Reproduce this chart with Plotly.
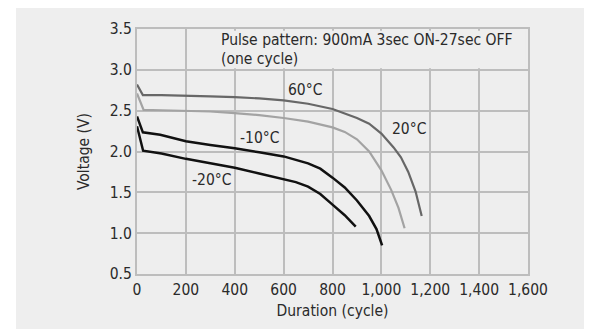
import plotly.graph_objects as go

# ---- data ----
x_top = [0, 24, 100, 200, 300, 400, 500, 600, 700, 800, 900, 950, 1000, 1050, 1080, 1110, 1140, 1165]
y_top = [2.82, 2.69, 2.69, 2.685, 2.675, 2.665, 2.65, 2.625, 2.585, 2.52, 2.41, 2.34, 2.22, 2.05, 1.93, 1.75, 1.51, 1.21]

x_mid = [0, 27, 100, 200, 300, 400, 500, 600, 700, 800, 850, 900, 950, 1000, 1040, 1070, 1095]
y_mid = [2.71, 2.51, 2.505, 2.5, 2.49, 2.47, 2.445, 2.41, 2.365, 2.295, 2.24, 2.15, 2.0, 1.77, 1.53, 1.31, 1.06]

x_m10 = [0, 24, 95, 200, 300, 400, 500, 600, 700, 750, 800, 850, 900, 950, 980, 1003]
y_m10 = [2.43, 2.235, 2.205, 2.125, 2.08, 2.04, 1.99, 1.94, 1.855, 1.79, 1.68, 1.56, 1.40, 1.21, 1.05, 0.85]

x_m20 = [0, 25, 100, 200, 300, 400, 500, 600, 650, 700, 750, 800, 850, 895]
y_m20 = [2.31, 2.01, 1.975, 1.91, 1.855, 1.8, 1.73, 1.665, 1.625, 1.57, 1.48, 1.35, 1.22, 1.08]

x_ticks = [0, 200, 400, 600, 800, 1000, 1200, 1400, 1600]
y_ticks = [0.5, 1.0, 1.5, 2.0, 2.5, 3.0, 3.5]

labels = ["60°C", "20°C", "-10°C", "-20°C"]
label_x = [689, 1114, 501, 304]
label_y = [2.75, 2.28, 2.16, 1.65]

note_lines = ["Pulse pattern: 900mA 3sec ON-27sec OFF", "(one cycle)"]

FONT = "DejaVu Sans Condensed, Liberation Sans Narrow, Roboto, sans-serif"
FS = 15.5
BG = "#eeeeee"
GRID = "#bdbdbd"
TXT = "#2a2a2a"

fig = go.Figure()
fig.add_trace(go.Scatter(x=x_top, y=y_top, mode="lines", line=dict(color="#676767", width=2.2), showlegend=False))
fig.add_trace(go.Scatter(x=x_mid, y=y_mid, mode="lines", line=dict(color="#a3a3a3", width=2.2), showlegend=False))
fig.add_trace(go.Scatter(x=x_m10, y=y_m10, mode="lines", line=dict(color="#111111", width=2.5), showlegend=False))
fig.add_trace(go.Scatter(x=x_m20, y=y_m20, mode="lines", line=dict(color="#111111", width=2.5), showlegend=False))

# white strip left of the gray panel (the page adds an 8px margin itself)
fig.add_shape(type="rect", xref="paper", yref="paper", x0=-0.6, x1=-0.3095, y0=-0.5, y1=1.5,
              fillcolor="white", line=dict(width=0), layer="above")
# box behind the note hiding vertical grid lines
fig.add_shape(type="rect", xref="x", yref="y", x0=260, x1=1590, y0=3.02, y1=3.48,
              fillcolor=BG, line=dict(width=0), layer="above")

for t, xx, yy in zip(labels, label_x, label_y):
    fig.add_annotation(x=xx, y=yy, text=t, showarrow=False, font=dict(family=FONT, size=FS, color=TXT))

fig.add_annotation(x=334, y=3.36, text=note_lines[0], xanchor="left", showarrow=False,
                   font=dict(family=FONT, size=FS, color=TXT))
fig.add_annotation(x=334, y=3.13, text=note_lines[1], xanchor="left", showarrow=False,
                   font=dict(family=FONT, size=FS, color=TXT))

fig.update_xaxes(range=[0, 1600], tickmode="array", tickvals=x_ticks, tickformat=",",
                 showgrid=True, gridcolor=GRID, gridwidth=2, layer="below traces",
                 showline=True, mirror=True, linecolor=GRID, linewidth=2, zeroline=False,
                 tickfont=dict(family=FONT, size=FS, color=TXT),
                 title=dict(text="Duration (cycle)", font=dict(family=FONT, size=FS, color=TXT), standoff=8))
fig.update_yaxes(range=[0.5, 3.5], tickmode="array", tickvals=y_ticks, tickformat=".1f",
                 showgrid=True, gridcolor=GRID, gridwidth=2, layer="below traces",
                 showline=True, mirror=True, linecolor=GRID, linewidth=2, zeroline=False,
                 tickfont=dict(family=FONT, size=FS, color=TXT),
                 title=dict(text="Voltage (V)", font=dict(family=FONT, size=FS, color=TXT), standoff=16))

fig.update_layout(width=584, height=321, margin=dict(l=129, r=64, t=21, b=55),
                  paper_bgcolor=BG, plot_bgcolor=BG, showlegend=False, template="none")

fig.write_html("out.html")
